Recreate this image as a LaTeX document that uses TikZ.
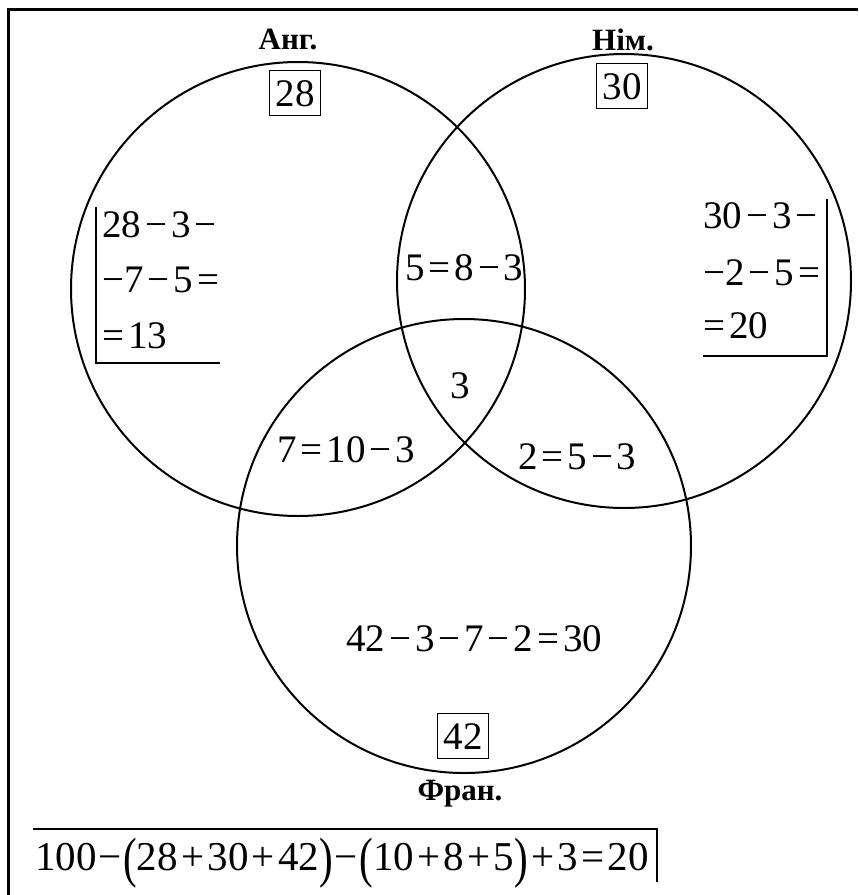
\documentclass[tikz,border=0pt]{standalone}
\usepackage{fontspec}
\setmainfont{Liberation Serif}
\usepackage{graphicx}
\newcommand{\smin}{\hspace{.1em}−\hspace{.1em}}
\newcommand{\seq}{\hspace{.1em}=\hspace{.1em}}
\newcommand{\tmin}{\hspace{.04em}−\hspace{.04em}}
\newcommand{\tplus}{\hspace{.08em}+\hspace{.08em}}
\newcommand{\teq}{\hspace{.08em}=\hspace{.08em}}
\newcommand{\lpar}{\raisebox{-3.1pt}{\scalebox{1}[1.35]{(}}}
\newcommand{\rpar}{\raisebox{-3.1pt}{\scalebox{1}[1.35]{)}}}

\begin{document}
\begin{tikzpicture}[x=0.5pt, y=-0.5pt,
          circ/.style={line width=1pt},
          lang/.style={anchor=base, inner sep=0pt, font=\fontsize{15.5}{18}\selectfont\bfseries},
          total/.style={draw, line width=.75pt, inner xsep=3pt, inner ysep=0pt,
            text height=18pt, text depth=4.5pt, font=\fontsize{19.5}{23}\selectfont},
          expr/.style={anchor=base west, inner sep=0pt, font=\fontsize{19.5}{23}\selectfont},
        ]
          \useasboundingbox (0,0) rectangle (858,895);
          \coordinate (ang) at (298, 289);
          \coordinate (nim) at (624, 281);
          \coordinate (fra) at (464, 546);
          \draw[line width=1.5pt] (8,895) -- (8,9) -- (858,9);
          \draw[circ] (ang) circle (227);
          \draw[circ] (nim) circle (227);
          \draw[circ] (fra) circle (227);
          \node[lang] (lang-a) at (288, 49) {Анг.};
          \node[lang] (lang-n) at (623, 50) {Нім.};
          \node[lang] (lang-f) at (460, 800) {Фран.};
          \node[total] (t28) at (295, 93) {28};
          \node[total] (t30) at (622, 86) {30};
          \node[total] (t42) at (463, 736) {42};
          \node[expr] (a1) at (102, 237) {28\smin 3\smin};
          \node[expr] (a2) at (102, 292) {−7\smin 5\seq};
          \node[expr] (a3) at (102, 348) {=\hspace{.1em}13};
          \draw[line width=1pt] (96,207) -- (96,363) -- (220,363);
          \node[expr] (n1) at (703, 228) {30\smin 3\smin};
          \node[expr] (n2) at (703, 285) {−2\smin 5\seq};
          \node[expr] (n3) at (703, 338) {=\hspace{.1em}20};
          \draw[line width=1pt] (827,199) -- (827,356) -- (703,356);
          \node[expr] (an) at (405, 280) {5\seq 8\smin 3};
          \node[expr] (anf) at (450, 398) {3};
          \node[expr] (af) at (277, 462) {7\seq 10\smin 3};
          \node[expr] (nf) at (518, 469) {2\seq 5\smin 3};
          \node[expr] (f1) at (346, 651) {42\smin 3\smin 7\smin 2\seq 30};
          \node[expr, font=\fontsize{20.5}{25}\selectfont] (sum) at (35, 870)
            {100\tmin\lpar 28\tplus 30\tplus 42\rpar\tmin\lpar 10\tplus 8\tplus 5\rpar\tplus 3\teq 20};
          \draw[line width=1pt] (33,829) -- (657,829) -- (657,882);
        \end{tikzpicture}
\end{document}
